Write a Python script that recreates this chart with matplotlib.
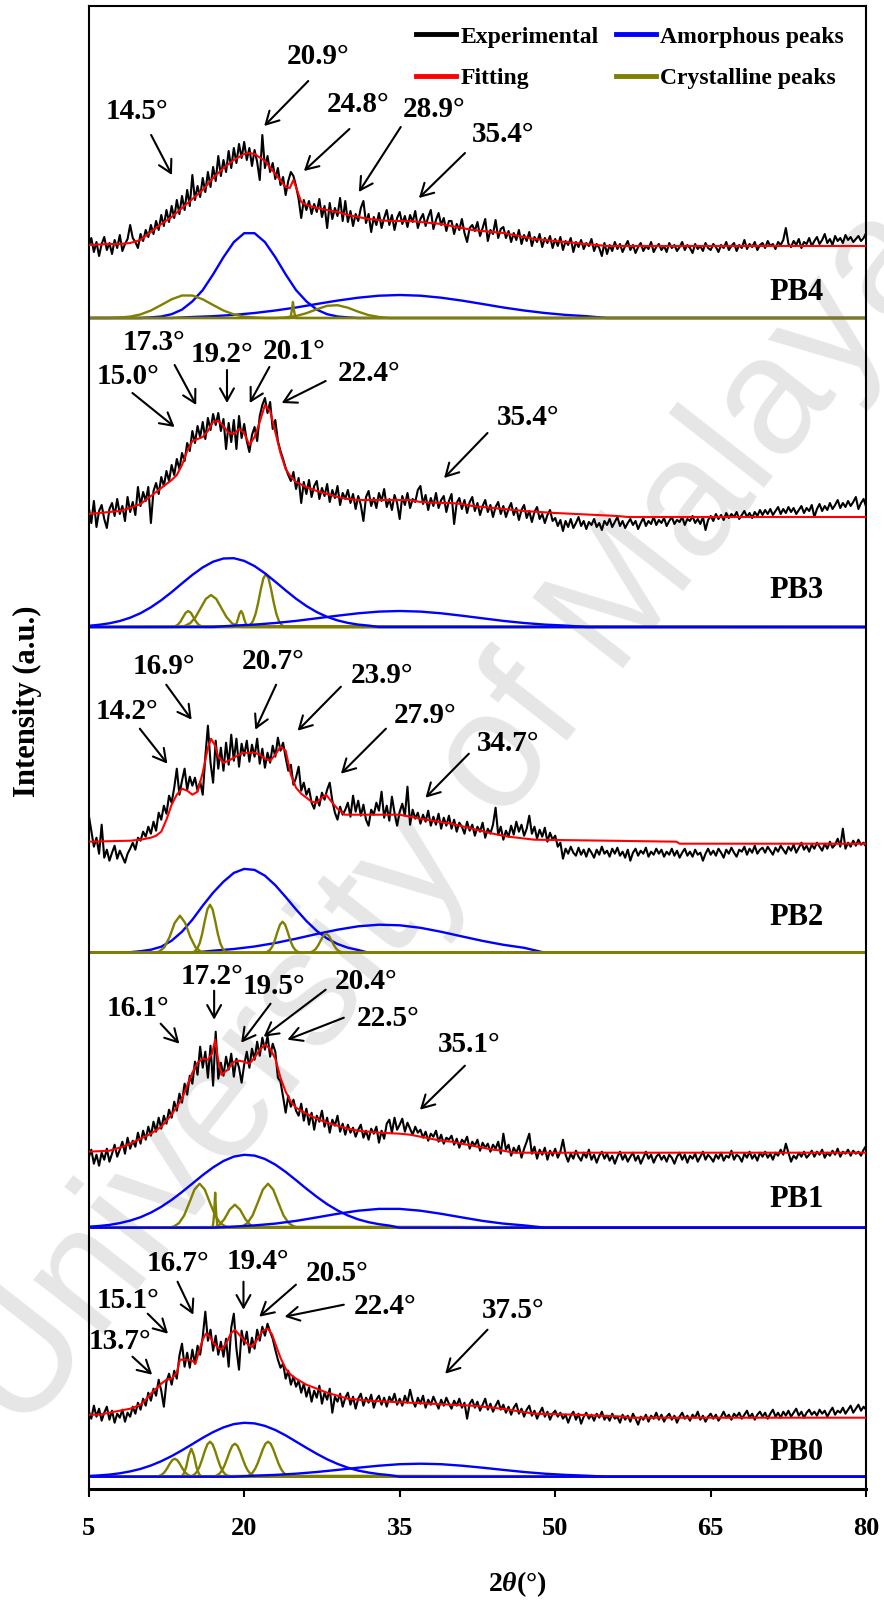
import numpy as np
import matplotlib
matplotlib.use('Agg')
import matplotlib.pyplot as plt
from matplotlib.lines import Line2D

plt.rcParams['font.family'] = ['Liberation Serif', 'DejaVu Serif']
plt.rcParams['font.weight'] = 'bold'
plt.rcParams['mathtext.fontset'] = 'custom'
plt.rcParams['mathtext.rm'] = 'Liberation Serif:bold'
plt.rcParams['mathtext.it'] = 'Liberation Serif:italic:bold'
plt.rcParams['mathtext.bf'] = 'Liberation Serif:bold'

samples = ['PB4', 'PB3', 'PB2', 'PB1', 'PB0']
x_ticks = [5, 20, 35, 50, 65, 80]

# scan grid: 5-80 deg, 0.25 deg step (301 points)
two_theta = np.linspace(5, 80, 301)

exp_pb4 = [
    71, 80, 66, 76, 62, 74, 81, 68, 75, 64, 78, 70, 83, 67, 74, 79, 93, 80, 76, 70,
    84, 77, 88, 81, 93, 84, 97, 88, 103, 92, 108, 96, 112, 100, 118, 104, 122, 108, 128, 112,
    143, 118, 132, 121, 140, 126, 146, 131, 151, 137, 162, 142, 158, 146, 167, 150, 170, 155, 174, 160,
    176, 158, 170, 152, 168, 156, 138, 183, 150, 162, 146, 155, 139, 150, 133, 141, 123, 137, 146, 142,
    132, 119, 100, 118, 108, 117, 104, 114, 106, 119, 101, 112, 90, 115, 99, 110, 102, 120, 97, 117,
    96, 107, 92, 104, 97, 110, 117, 95, 104, 86, 101, 93, 105, 90, 100, 108, 93, 103, 88, 100,
    106, 94, 102, 91, 103, 96, 107, 90, 99, 104, 92, 101, 108, 89, 98, 105, 93, 100, 87, 97,
    97, 84, 94, 88, 99, 85, 76, 90, 93, 87, 96, 82, 90, 99, 77, 88, 84, 98, 80, 89,
    91, 80, 87, 76, 85, 78, 88, 74, 83, 77, 86, 72, 81, 76, 84, 71, 80, 75, 82, 70,
    79, 72, 81, 68, 77, 73, 80, 66, 76, 71, 78, 69, 75, 72, 79, 67, 74, 70, 62, 75,
    64, 73, 67, 76, 69, 74, 66, 72, 77, 68, 73, 65, 71, 75, 67, 72, 69, 76, 66, 71,
    74, 68, 72, 66, 75, 70, 73, 67, 71, 76, 68, 73, 70, 65, 74, 69, 72, 67, 75, 70,
    68, 74, 71, 66, 73, 70, 76, 68, 72, 75, 67, 73, 70, 78, 69, 74, 71, 76, 68, 73,
    75, 70, 77, 72, 74, 69, 76, 73, 78, 90, 74, 71, 77, 73, 79, 70, 76, 74, 80, 72,
    77, 81, 74, 78, 84, 75, 79, 73, 82, 77, 80, 75, 83, 78, 81, 76, 79, 82, 77, 80,
    85]

exp_pb3 = [
    120, 104, 126, 100, 116, 122, 108, 99, 118, 124, 111, 128, 113, 121, 106, 130, 115, 125, 112, 140,
    121, 135, 126, 140, 104, 136, 144, 133, 150, 141, 156, 146, 162, 152, 168, 158, 174, 166, 184, 176,
    196, 184, 201, 190, 205, 188, 209, 197, 213, 202, 214, 196, 208, 178, 204, 185, 207, 178, 211, 189,
    203, 186, 175, 192, 200, 186, 211, 222, 229, 214, 225, 198, 207, 186, 176, 168, 159, 152, 146, 155,
    138, 149, 124, 145, 133, 147, 130, 141, 146, 128, 139, 131, 143, 125, 137, 129, 141, 122, 134, 128,
    137, 124, 133, 118, 131, 122, 106, 130, 136, 121, 129, 119, 134, 126, 138, 120, 128, 117, 132, 124,
    108, 131, 122, 134, 119, 128, 125, 137, 141, 123, 132, 117, 129, 121, 134, 119, 127, 131, 115, 126,
    133, 103, 124, 129, 118, 127, 114, 125, 130, 116, 124, 112, 121, 127, 115, 122, 110, 120, 125, 113,
    121, 110, 118, 124, 112, 119, 107, 117, 122, 109, 116, 105, 115, 120, 108, 113, 104, 112, 117, 106,
    109, 101, 107, 96, 106, 100, 108, 99, 104, 110, 101, 106, 98, 105, 102, 108, 100, 104, 97, 106,
    102, 108, 100, 105, 110, 101, 106, 99, 104, 108, 102, 106, 98, 104, 109, 101, 106, 103, 110, 102,
    107, 104, 109, 101, 106, 110, 103, 107, 105, 110, 102, 108, 106, 111, 104, 108, 103, 110, 97, 107,
    111, 106, 113, 108, 112, 107, 114, 109, 113, 110, 115, 108, 112, 116, 110, 114, 109, 115, 111, 117,
    112, 117, 113, 118, 112, 116, 120, 113, 118, 114, 120, 115, 119, 113, 117, 121, 114, 119, 116, 122,
    110, 118, 123, 116, 121, 117, 124, 118, 122, 127, 119, 124, 120, 126, 121, 125, 130, 118, 124, 128,
    120]

exp_pb2 = [
    138, 122, 106, 115, 99, 128, 95, 103, 92, 100, 107, 94, 102, 96, 90, 99, 104, 110, 103, 115,
    112, 121, 116, 126, 119, 131, 122, 140, 133, 147, 139, 157, 150, 165, 184, 158, 172, 184, 163, 176,
    167, 175, 162, 171, 158, 196, 227, 190, 170, 212, 184, 205, 182, 210, 188, 218, 192, 214, 186, 209,
    197, 212, 191, 208, 196, 214, 189, 204, 185, 200, 190, 207, 196, 215, 202, 210, 195, 182, 188, 168,
    175, 186, 162, 170, 158, 164, 150, 144, 156, 147, 160, 153, 163, 170, 152, 140, 133, 146, 138, 143,
    150, 136, 157, 141, 152, 137, 148, 133, 127, 143, 138, 150, 142, 161, 135, 147, 132, 156, 140, 127,
    141, 149, 137, 166, 128, 143, 134, 140, 129, 138, 131, 142, 127, 136, 128, 139, 124, 135, 127, 137,
    124, 133, 121, 130, 126, 119, 131, 122, 128, 117, 126, 121, 130, 115, 124, 119, 128, 145, 118, 126,
    113, 122, 116, 127, 118, 131, 121, 128, 117, 124, 137, 119, 126, 114, 123, 116, 125, 111, 120, 113,
    117, 106, 110, 94, 104, 99, 106, 100, 97, 105, 98, 103, 96, 104, 100, 95, 103, 98, 106, 99,
    102, 96, 104, 99, 105, 97, 101, 95, 103, 92, 100, 104, 97, 102, 99, 105, 96, 101, 98, 104,
    99, 103, 96, 101, 98, 104, 97, 102, 95, 100, 104, 97, 101, 96, 103, 98, 100, 92, 99, 104,
    98, 102, 97, 104, 100, 95, 103, 99, 105, 100, 96, 103, 101, 106, 98, 104, 100, 107, 99, 103,
    105, 100, 106, 102, 98, 105, 101, 107, 103, 99, 106, 102, 108, 100, 105, 110, 103, 107, 101, 108,
    104, 110, 106, 102, 109, 104, 111, 105, 108, 114, 106, 124, 104, 110, 106, 112, 107, 113, 108, 110,
    106]

exp_pb1 = [
    70, 78, 64, 73, 62, 75, 68, 79, 66, 74, 83, 71, 78, 86, 74, 90, 79, 87, 81, 95,
    84, 97, 88, 101, 92, 106, 96, 110, 99, 112, 104, 118, 110, 126, 117, 134, 125, 144, 133, 152,
    144, 166, 153, 181, 160, 176, 150, 182, 142, 196, 149, 165, 152, 171, 158, 174, 151, 169, 160, 145,
    163, 176, 160, 179, 168, 186, 172, 190, 178, 192, 171, 184, 176, 150, 146, 131, 115, 132, 121, 128,
    117, 112, 124, 107, 119, 103, 115, 98, 112, 106, 117, 101, 110, 95, 108, 102, 112, 96, 104, 93,
    103, 95, 100, 91, 98, 103, 90, 97, 88, 99, 94, 101, 85, 97, 89, 104, 108, 95, 110, 98,
    103, 109, 96, 105, 99, 93, 101, 95, 98, 90, 96, 87, 94, 91, 97, 86, 93, 84, 90, 88,
    92, 83, 89, 80, 88, 85, 91, 79, 86, 82, 88, 77, 85, 80, 84, 76, 83, 79, 86, 74,
    94, 78, 83, 72, 80, 75, 82, 70, 79, 86, 94, 74, 81, 69, 78, 73, 80, 68, 77, 72,
    79, 70, 76, 88, 73, 66, 74, 69, 77, 71, 67, 75, 70, 78, 68, 73, 65, 72, 76, 69,
    74, 67, 72, 64, 71, 76, 68, 73, 66, 71, 75, 67, 72, 64, 70, 76, 69, 73, 65, 71,
    74, 68, 72, 66, 73, 70, 64, 71, 75, 68, 73, 65, 72, 69, 74, 66, 71, 76, 68, 73,
    70, 66, 73, 69, 75, 67, 72, 70, 77, 68, 73, 71, 66, 74, 70, 76, 69, 73, 67, 75,
    71, 76, 70, 74, 68, 75, 72, 78, 73, 84, 75, 66, 72, 69, 75, 71, 76, 70, 73, 77,
    71, 76, 73, 78, 70, 75, 72, 77, 73, 79, 71, 76, 74, 78, 72, 77, 74, 76, 72, 78,
    82]

exp_pb0 = [
    66, 58, 71, 60, 68, 56, 64, 70, 57, 66, 54, 63, 59, 67, 55, 64, 60, 70, 63, 74,
    67, 78, 71, 84, 76, 88, 81, 97, 86, 70, 95, 103, 92, 106, 98, 121, 133, 110, 124, 109,
    127, 113, 131, 122, 140, 165, 136, 147, 126, 141, 122, 135, 120, 138, 110, 149, 163, 128, 107, 146,
    132, 145, 124, 139, 128, 147, 136, 150, 141, 153, 145, 138, 127, 117, 109, 113, 98, 106, 92, 100,
    90, 96, 84, 93, 80, 89, 75, 86, 79, 91, 73, 84, 77, 88, 64, 80, 75, 83, 70, 79,
    84, 72, 80, 68, 78, 83, 71, 79, 74, 82, 69, 77, 81, 72, 79, 70, 80, 75, 83, 72,
    78, 71, 81, 74, 87, 76, 70, 79, 73, 81, 69, 77, 72, 80, 74, 68, 77, 71, 79, 73,
    68, 76, 71, 78, 69, 74, 58, 73, 77, 69, 75, 66, 72, 78, 67, 73, 65, 71, 76, 67,
    72, 64, 70, 62, 69, 73, 63, 68, 60, 67, 71, 61, 66, 58, 64, 69, 60, 65, 57, 63,
    66, 60, 64, 58, 62, 54, 61, 65, 57, 63, 53, 60, 64, 58, 62, 56, 63, 59, 65, 57,
    61, 56, 63, 58, 60, 54, 62, 57, 61, 55, 63, 58, 52, 60, 57, 62, 55, 61, 58, 64,
    57, 62, 55, 60, 63, 57, 61, 54, 60, 64, 58, 61, 56, 62, 59, 65, 57, 61, 55, 60,
    63, 58, 62, 56, 60, 65, 59, 62, 57, 63, 60, 64, 58, 62, 66, 59, 63, 57, 62, 65,
    60, 64, 58, 63, 67, 60, 64, 59, 65, 61, 66, 60, 64, 68, 61, 65, 59, 64, 67, 62,
    65, 61, 67, 63, 66, 60, 65, 69, 62, 66, 64, 69, 63, 67, 71, 64, 68, 72, 66, 70,
    67]

# fitted envelopes as (2theta, intensity) pairs
fit_pb4 = [(5, 73), (7, 74), (8, 74), (9, 75), (10, 78), (11, 86), (12, 94), (13, 101),
           (14, 110), (15, 119), (16, 128), (17, 140), (18, 150), (19, 158), (20, 164),
           (20.5, 165), (21, 164), (22, 157), (23, 144), (24, 131), (24.4, 130),
           (24.75, 138), (25.1, 128), (25.5, 116), (26, 113), (27, 110), (28, 108),
           (29, 106), (30, 103), (31, 101), (32, 99), (33, 98), (34, 97), (36, 97),
           (37, 96), (38, 95), (39, 94), (40, 92), (41, 90), (42, 88), (43, 87), (44, 86),
           (45, 85), (46, 83), (47, 81), (48, 79), (49, 78), (50, 77), (51, 76), (52, 75),
           (53, 74), (54, 73), (55, 72), (80, 72)]
fit_pb3 = [(5, 113), (6, 114), (7, 115), (8, 116), (9, 119), (10, 123), (11, 131), (12, 139),
           (13, 147), (13.5, 152), (14, 162), (14.5, 176), (15, 186), (16, 190), (16.5, 196),
           (17, 205), (17.5, 206), (18, 201), (18.5, 194), (19, 193), (19.5, 198), (20, 194),
           (20.5, 182), (21, 190), (21.5, 205), (22, 222), (22.5, 216), (23, 195),
           (23.5, 174), (24, 158), (24.5, 150), (25, 145), (26, 140), (27, 136), (28, 133),
           (29, 130), (30, 128), (31, 127), (36, 127), (37, 125), (39, 124), (40, 124),
           (41, 123), (42, 121), (43, 120), (44, 119), (45, 118), (47, 116), (50, 114),
           (52, 113), (54, 112), (56, 111), (57, 110), (80, 110)]
fit_pb2 = [(5, 111), (9, 112), (10, 113), (11, 115), (11.5, 117), (12, 121), (12.5, 133),
           (13, 148), (13.5, 158), (14, 164), (14.5, 162), (15, 158), (15.5, 161), (16, 180),
           (16.5, 205), (16.8, 214), (17.2, 207), (17.5, 196), (18, 190), (18.5, 192),
           (19, 195), (19.5, 198), (20, 200), (21, 200), (21.5, 198), (22, 194), (22.5, 192),
           (23, 198), (23.5, 206), (24, 202), (24.5, 178), (25, 165), (25.5, 159), (26, 155),
           (26.5, 151), (27, 150), (27.5, 155), (27.9, 158), (28.5, 150), (29, 144),
           (29.7, 138), (35, 138), (35.5, 137), (37, 134), (38.7, 131), (40, 129), (42, 124),
           (44, 119), (45.5, 116), (48, 113), (55, 112), (61.7, 111), (62, 109), (80, 109)]
fit_pb1 = [(5, 76), (7, 77), (8, 80), (9, 84), (10, 89), (11, 94), (12, 101), (13, 113),
           (13.5, 121), (14, 129), (14.5, 142), (15, 155), (15.5, 165), (16, 169), (16.5, 168),
           (16.9, 174), (17.2, 188), (17.45, 170), (17.8, 153), (18.4, 158), (19, 166),
           (19.5, 167), (20, 166), (20.5, 164), (21, 170), (21.5, 178), (22, 183), (22.5, 179),
           (23, 169), (23.5, 150), (24, 136), (24.5, 126), (25, 120), (26, 114), (27, 109),
           (28, 105), (29, 102), (30, 99), (31, 97), (32, 96), (33, 95), (35, 94), (36, 93),
           (37, 91), (38, 89), (39, 87), (40, 86), (41, 84), (42, 82), (43, 80), (44, 78),
           (45, 77), (46, 75), (80, 75)]
fit_pb0 = [(5, 62), (6, 62), (7, 64), (8, 66), (9, 68), (10, 72), (10.5, 77), (11, 83),
           (11.5, 88), (12, 93), (12.5, 97), (13, 98), (13.5, 104), (13.8, 117), (14.5, 117),
           (15, 116), (15.3, 113), (15.6, 124), (16, 137), (16.3, 143), (16.7, 140), (17, 134),
           (17.5, 129), (17.8, 127), (18.3, 134), (18.7, 143), (19.1, 147), (19.6, 141),
           (20, 136), (20.5, 131), (20.8, 130), (21.3, 138), (21.8, 146), (22.3, 148),
           (22.7, 142), (23, 133), (23.5, 119), (24, 108), (24.5, 102), (25, 98), (26, 92),
           (27, 88), (28, 84), (29, 81), (30, 78), (31, 77), (32, 76), (34, 75), (36, 74),
           (38, 73), (40, 72), (42, 71), (44, 69), (45.5, 67), (48, 63), (52, 62),
           (56.8, 60), (57, 59), (80, 59)]

# deconvoluted components: (first 2theta, step, intensities)
amor_pb4 = [
    (10, 1, [0, 0.6, 1.5, 3.8, 8.4, 16.6, 27.9, 43.6, 60.8, 75.9, 84.8, 84.8, 75.9, 60.8,
             43.6, 27.9, 16.6, 8.4, 3.8, 1.5, 0.6, 0]),
    (13, 2, [0, 1.0, 1.8, 3.1, 5.0, 7.5, 10.5, 14.0, 17.4, 20.3, 22.3, 23, 22.3, 20.3, 17.4,
             14.0, 10.5, 7.5, 5.0, 3.1, 1.8, 0]),
]
cryst_pb4 = [
    (7, 1, [0, 0.5, 1.4, 3.6, 7.5, 13.0, 18.7, 22.5, 22.5, 18.7, 13.0, 7.5, 3.6, 1.4, 0.5, 0]),
    (24.4, 0.1, [0, 2, 8, 16, 8, 2, 0]),
    (23, 1, [0, 0.6, 2.0, 4.8, 8.7, 12.2, 12.8, 10.3, 6.3, 2.9, 1.0, 0]),
]
amor_pb3 = [
    (5, 1, [1.2, 2.2, 3.7, 6.0, 9.3, 13.8, 19.7, 26.8, 34.9, 43.6, 52.1, 59.6, 65.3, 68.5,
            68.8, 66.1, 60.9, 53.7, 45.3, 36.6, 28.3, 21.0, 14.9, 10.1, 6.6, 4.1, 2.4, 1.4, 0]),
    (17, 2, [0, 1.4, 2.4, 4.0, 6.1, 8.7, 11.3, 13.7, 15.4, 16, 15.4, 13.7, 11.3, 8.7, 6.1,
             4.0, 2.4, 1.4, 0]),
]
cryst_pb3 = [
    (13.1, 0.25, [0, 0.8, 2.3, 5.4, 9.9, 14.2, 16, 14.2, 9.9, 5.4, 2.3, 0.8, 0]),
    (13.8, 0.5, [0, 1.2, 3.9, 9.8, 18.9, 28.1, 32, 28.1, 18.9, 9.8, 3.9, 1.2, 0]),
    (18.95, 0.15, [0, 1, 3.4, 8, 13.5, 16, 13.5, 8, 3.4, 1, 0]),
    (20.35, 0.25, [0, 2.3, 6.0, 13.2, 24.3, 37.5, 48.6, 53, 48.6, 37.5, 24.3, 13.2, 6.0, 2.3, 0]),
    (17.7, 15.2, [0.8, 0.8]),
]
amor_pb2 = [
    (8, 1, [0, 0.5, 1.5, 3, 6, 12, 21, 33, 47, 60, 71, 79.8, 83.8, 82.8, 77.0, 67.5, 55.7,
            43.3, 31.7, 21.8, 14.2, 8.7, 5.0, 2.7, 0]),
    (15, 2, [0, 2.0, 3.7, 6.2, 9.7, 14.0, 18.7, 23.0, 26.4, 28, 27.4, 24.9, 20.9, 16.3, 11.8,
             7.9, 4.9, 0]),
]
cryst_pb2 = [
    (11.3, 0.5, [0, 1.2, 5.4, 15.7, 29.9, 37, 29.9, 15.7, 5.4, 1.2, 0]),
    (14.95, 0.25, [0, 1.2, 3.7, 9.3, 19.1, 31.9, 43.3, 48, 43.3, 31.9, 19.1, 9.3, 3.7, 1.2, 0]),
    (21.95, 0.25, [0, 0.8, 2.4, 6.0, 12.3, 20.6, 28.0, 31, 28.0, 20.6, 12.3, 6.0, 2.4, 0.8, 0]),
    (26.15, 0.25, [0, 0.5, 1.5, 3.7, 7.6, 12.6, 17.1, 19, 17.1, 12.6, 7.6, 3.7, 1.5, 0.5, 0]),
]
amor_pb1 = [
    (5, 1, [1.0, 1.7, 2.8, 4.6, 7.1, 10.5, 15.1, 20.9, 27.8, 35.7, 44.1, 52.6, 60.3, 66.7,
            71.1, 72.9, 72.1, 68.7, 63.1, 55.8, 47.5, 39.0, 30.9, 23.5, 17.3, 12.2, 8.3, 5.5,
            3.5, 2.1, 0]),
    (17, 2, [0, 1.1, 2.3, 4.1, 6.8, 10.3, 13.9, 17.0, 18.8, 18.8, 17.0, 13.9, 10.3, 6.8, 4.1,
             2.3, 0]),
]
cryst_pb1 = [
    (12.7, 0.5, [0, 1.2, 4.5, 12.1, 24.8, 38.1, 44, 38.1, 24.8, 12.1, 4.5, 1.2, 0]),
    (16.9, 0.1, [0, 3, 14, 35, 14, 3, 0]),
    (17.1, 0.5, [0, 2.6, 8.8, 18.1, 23, 18.1, 8.8, 2.6, 0]),
    (19.3, 0.5, [0, 1.2, 4.5, 12.1, 24.8, 38.1, 44, 38.1, 24.8, 12.1, 4.5, 1.2, 0]),
    (20.3, 17.0, [0.8, 0.8]),
]
amor_pb0 = [
    (5, 1, [0.7, 1.3, 2.1, 3.4, 5.3, 7.8, 11.2, 15.5, 20.6, 26.4, 32.6, 38.9, 44.6, 49.3,
            52.6, 53.9, 53.3, 50.8, 46.7, 41.3, 35.1, 28.9, 22.9, 17.4, 12.8, 9.0, 6.1, 4.1,
            2.6, 1.6, 0]),
    (19, 2, [0, 1.0, 1.8, 3.0, 4.7, 6.8, 9.0, 11.0, 12.5, 13, 12.5, 11.0, 9.0, 6.8, 4.7, 3.0,
             1.8, 1.0, 0]),
]
cryst_pb0 = [
    (11.55, 0.25, [0, 0.8, 2.0, 4.4, 8.1, 12.7, 16.5, 18, 16.5, 12.7, 8.1, 4.4, 2.0, 0.8, 0]),
    (13.9, 0.25, [0, 2.5, 9.5, 21.4, 28, 21.4, 9.5, 2.5, 0]),
    (14.7, 0.25, [0, 0.8, 2.2, 5.1, 10.2, 17.5, 25.7, 32.4, 35, 32.4, 25.7, 17.5, 10.2, 5.1,
                  2.2, 0.8, 0]),
    (17.1, 0.25, [0, 1.2, 2.9, 6.1, 11.2, 18.0, 25.2, 30.9, 33, 30.9, 25.2, 18.0, 11.2, 6.1,
                  2.9, 1.2, 0]),
    (20.3, 0.25, [0, 1.8, 4.0, 7.8, 13.4, 20.4, 27.5, 33.0, 35, 33.0, 27.5, 20.4, 13.4, 7.8,
                  4.0, 1.8, 0]),
    (21.2, 14.7, [0.8, 0.8]),
]

# labelled peak positions (2theta, deg)
peaks_pb4 = [14.5, 20.9, 24.8, 28.9, 35.4]
peaks_pb3 = [15.0, 17.3, 19.2, 20.1, 22.4, 35.4]
peaks_pb2 = [14.2, 16.9, 20.7, 23.9, 27.9, 34.7]
peaks_pb1 = [16.1, 17.2, 19.5, 20.4, 22.5, 35.1]
peaks_pb0 = [13.7, 15.1, 16.7, 19.4, 20.5, 22.4, 37.5]

exp_data = dict(PB4=exp_pb4, PB3=exp_pb3, PB2=exp_pb2, PB1=exp_pb1, PB0=exp_pb0)
fit_data = dict(PB4=fit_pb4, PB3=fit_pb3, PB2=fit_pb2, PB1=fit_pb1, PB0=fit_pb0)
amor_data = dict(PB4=amor_pb4, PB3=amor_pb3, PB2=amor_pb2, PB1=amor_pb1, PB0=amor_pb0)
cryst_data = dict(PB4=cryst_pb4, PB3=cryst_pb3, PB2=cryst_pb2, PB1=cryst_pb1, PB0=cryst_pb0)
peak_data = dict(PB4=peaks_pb4, PB3=peaks_pb3, PB2=peaks_pb2, PB1=peaks_pb1, PB0=peaks_pb0)

# ---- layout ----
offset = dict(PB4=1171.3, PB3=862.3, PB2=536.6, PB1=261.6, PB0=12.6)
olive_on_top = dict(PB4=True, PB3=False, PB2=True, PB1=False, PB0=False)
tag_height = dict(PB4=28, PB3=39, PB2=38, PB1=31, PB0=27)

# per label: text centre, arrow tail, arrow tip (shift from peak, height)
label_xy = dict(
    PB4=[(9.67, 208), (27.14, 263), (31.0, 215), (38.3, 210), (44.95, 185)],
    PB3=[(8.79, 252), (11.3, 286), (17.87, 274), (24.8, 277), (32.0, 255), (47.4, 211)],
    PB2=[(8.69, 243.5), (12.21, 288), (22.82, 293), (33.28, 279), (37.43, 239), (45.48, 211)],
    PB1=[(9.79, 221), (16.9, 253), (22.87, 243), (31.74, 248), (33.86, 211), (41.67, 185)],
    PB0=[(8.03, 137.5), (8.79, 178), (13.61, 215), (21.33, 217), (28.94, 205), (33.57, 172),
         (45.96, 168)],
)
tail_xy = dict(
    PB4=[(11.02, 183), (26.18, 237), (30.15, 189), (35.1, 191), (41.3, 165)],
    PB3=[(9.22, 234), (13.29, 262), (18.34, 257), (22.43, 260), (27.86, 246), (43.47, 194)],
    PB2=[(9.93, 224), (12.48, 268), (23.08, 268), (29.33, 266), (33.67, 224), (41.67, 199)],
    PB1=[(11.94, 204), (17.1, 237), (22.54, 224), (27.86, 238), (29.61, 210), (41.29, 162)],
    PB0=[(9.22, 120), (10.69, 163), (13.57, 195), (19.93, 195), (24.99, 192), (29.61, 172),
         (43.47, 147)],
)
tip_shift = dict(
    PB4=[(-1.47, 143), (1.03, 192), (0.96, 147), (2.16, 126), (1.45, 120)],
    PB3=[(-1.71, 200), (-1.93, 222), (-0.86, 224), (0.43, 224), (1.22, 224), (3.88, 149)],
    PB2=[(-1.61, 189), (-1.97, 233), (0.37, 223), (1.25, 222), (1.43, 179), (2.79, 155)],
    PB1=[(-2.36, 184), (-0.1, 208), (0.21, 185), (1.48, 191), (1.67, 188), (1.85, 118)],
    PB0=[(-2.58, 102), (-2.45, 143), (-1.61, 162), (0.53, 167), (0.95, 160), (1.5, 160),
         (1.89, 103)],
)

c_exp, c_fit, c_amor, c_cryst = 'black', '#ff0000', '#0000ff', '#808000'


def component_line(start, step, vals):
    x = start + step * np.arange(len(vals))
    return np.r_[5, x, 80], np.r_[0, vals, 0]


fig = plt.figure(figsize=(8.84, 16.04), dpi=100)
ax = fig.add_axes([0.10034, 0.07151, 0.87952, 0.92475])
ax.set_xlim(5, 80)
ax.set_ylim(0, 1483.3)

for s in samples:
    base = offset[s]
    ax.plot(two_theta, base + np.array(exp_data[s]), color=c_exp, lw=1.5, zorder=3)
    fx, fy = zip(*fit_data[s])
    ax.plot(fx, base + np.array(fy), color=c_fit, lw=1.5, zorder=4)

    groups = [(amor_data[s], c_amor), (cryst_data[s], c_cryst)]
    if not olive_on_top[s]:
        groups = groups[::-1]
    for z, (comps, col) in enumerate(groups):
        for start, step, vals in comps:
            cx, cy = component_line(start, step, vals)
            ax.plot(cx, base + cy, color=col, lw=1.7, zorder=2 + 0.1 * z)

    # sample tag, baseline sits ~10 units under the glyph centre
    ax.text(73.3, base + tag_height[s] - 10, s, ha='center', va='baseline', fontsize=22,
            fontweight='bold', zorder=5)

    for v, (tx, ty), (qx, qy), (dx, hy) in zip(peak_data[s], label_xy[s], tail_xy[s],
                                               tip_shift[s]):
        ax.annotate('', xy=(v + dx, base + hy), xytext=(qx, base + qy),
                    arrowprops=dict(arrowstyle='->,head_length=0.45,head_width=0.25',
                                    color='black', lw=1.5, shrinkA=0, shrinkB=0,
                                    mutation_scale=20), zorder=5)
        ax.text(tx, base + ty - 9.5, f'{v:.1f}°', ha='center', va='baseline', fontsize=21,
                fontweight='bold', zorder=5)

# faint diagonal watermark
ax.text(0.509, 0.489, 'University of Malaya', transform=fig.transFigure, rotation=52,
        fontsize=120, color='#e6e6e6', ha='center', va='center', family='Liberation Sans',
        fontweight='normal', zorder=0, clip_on=False)

ax.set_yticks([])
ax.set_xticks(x_ticks)
ax.tick_params(axis='x', direction='out', length=6, width=1.5, labelsize=19, pad=14)
for side in ['left', 'right', 'top']:
    ax.spines[side].set_linewidth(1.5)
ax.spines['bottom'].set_linewidth(2.2)

handles = [Line2D([], [], color=c_exp, lw=3.5), Line2D([], [], color=c_fit, lw=3.5),
           Line2D([], [], color=c_amor, lw=3.5), Line2D([], [], color=c_cryst, lw=3.5)]
labels = ['Experimental', 'Fitting', 'Amorphous peaks', 'Crystalline peaks']
ax.legend(handles, labels, ncol=2, frameon=False, fontsize=17, loc='upper left',
          bbox_to_anchor=(416 / 884, 1 - 26 / 1604), bbox_transform=fig.transFigure,
          handlelength=1.7, handletextpad=0.2, columnspacing=0.7, labelspacing=0.86,
          borderpad=0, borderaxespad=0)

fig.text(27 / 884, 1 - 701 / 1604, 'Intensity (a.u.)', rotation=90, ha='center',
         va='center', fontsize=22, fontweight='bold')
fig.text(517 / 884, 1 - 1584 / 1604, r'2$\theta$(°)', ha='center', va='center',
         fontsize=20, fontweight='bold')

fig.savefig('out.png', dpi=100)
